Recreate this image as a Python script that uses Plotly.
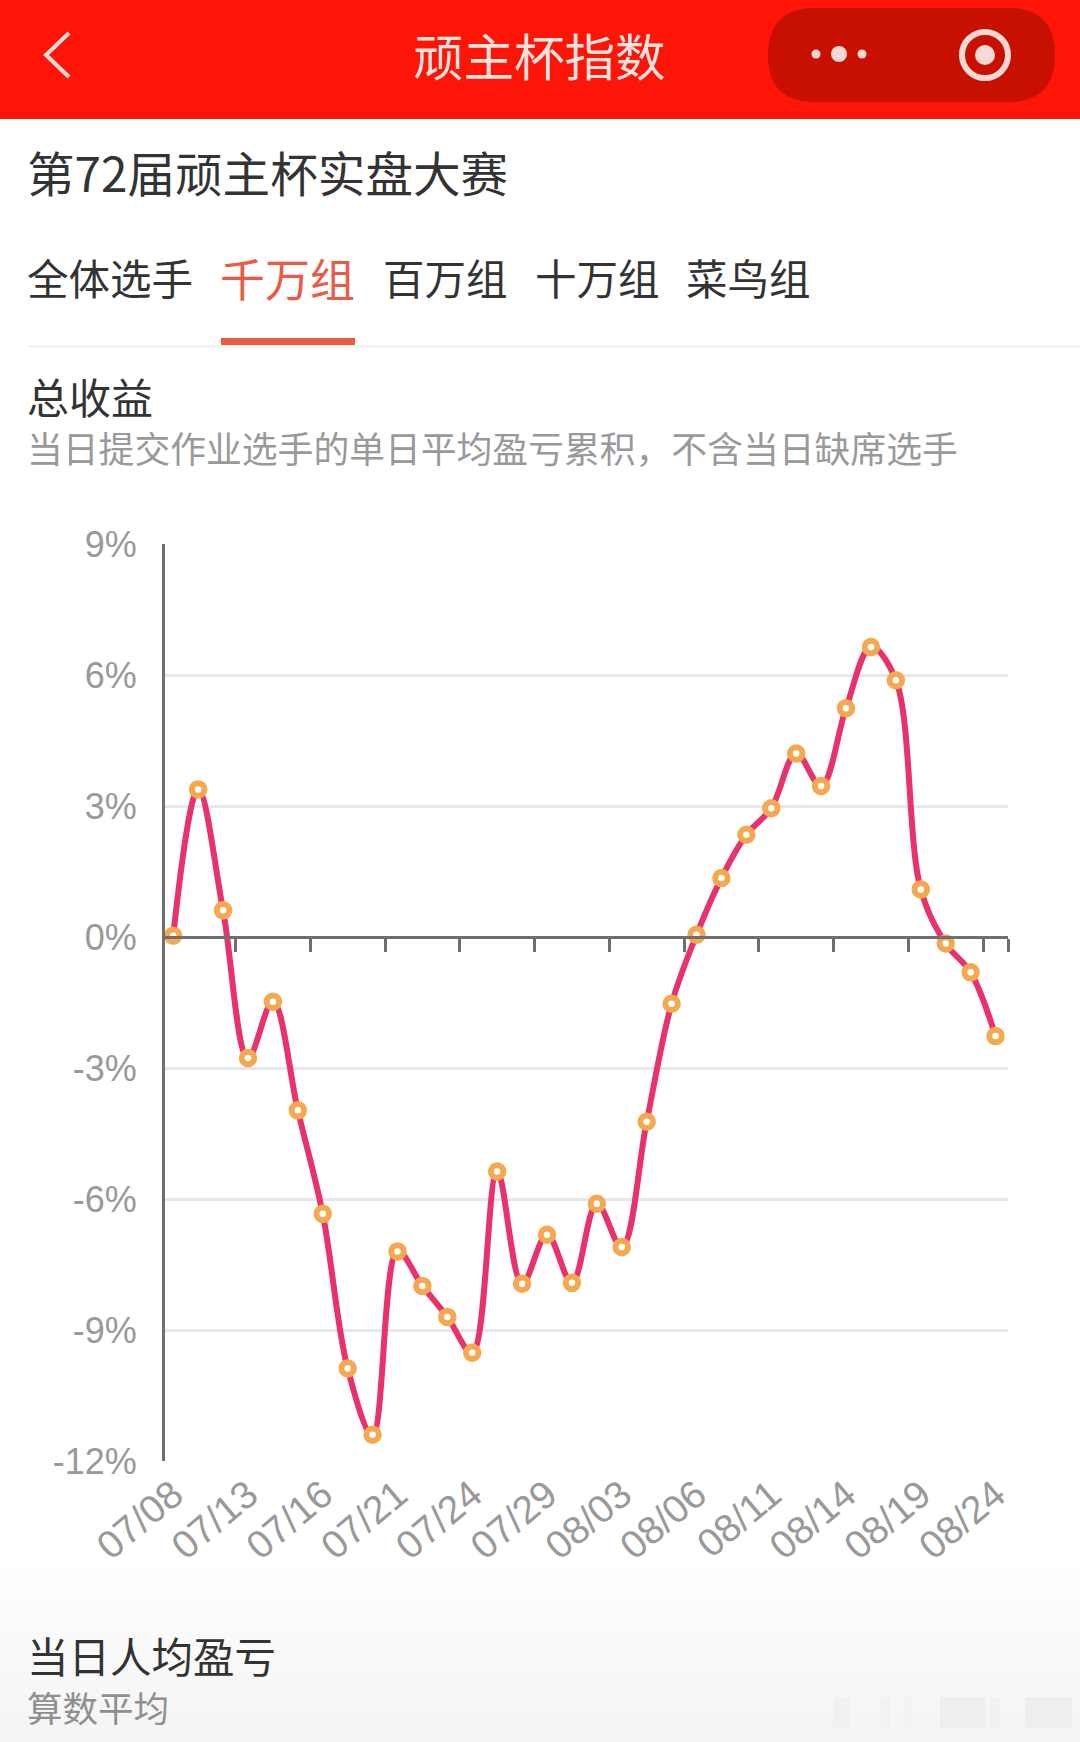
import plotly.graph_objects as go

W = 1080
H = 1742

# values, one per day
point_idx = list(range(34))
total_return = [0.03, 3.38, 0.61, -2.77, -1.48, -3.97, -6.34, -9.88, -11.40, -7.20, -7.99, -8.70,
                -9.52, -5.37, -7.94, -6.82, -7.92, -6.11, -7.10, -4.23, -1.53, 0.05, 1.35, 2.34,
                2.95, 4.20, 3.46, 5.24, 6.64, 5.88, 1.09, -0.15, -0.81, -2.27]
date_labels = ['07/08', '07/13', '07/16', '07/21', '07/24', '07/29',
               '08/03', '08/06', '08/11', '08/14', '08/19', '08/24']
date_idx = list(range(0, 34, 3))
y_vals = [9, 6, 3, 0, -3, -6, -9, -12]
y_labels = ['9%', '6%', '3%', '0%', '-3%', '-6%', '-9%', '-12%']
tick_edges = [2.5, 5.5, 8.5, 11.5, 14.5, 17.5, 20.5, 23.5, 26.5, 29.5, 32.5, 33.5]

tabs = ['全体选手', '千万组', '百万组', '十万组', '菜鸟组']
tab_x = [25, 218, 381, 533, 684]

CJK = 'Noto Sans CJK SC'
LATIN = 'Liberation Sans'
AXIS_GREY = '#6f6f73'
GRID = '#e3e8ee'

PLOT_L = 165
PLOT_R = 1008
PLOT_T = 544
PLOT_B = 1461
X_MIN = -0.33
X_MAX = 33.5


# paper coords are relative to the plot area, so everything outside goes through these
def px(v):
    return (v - PLOT_L) / (PLOT_R - PLOT_L)


def py(v):
    return (PLOT_B - v) / (PLOT_B - PLOT_T)


def box(x0, y0, x1, y1, color, layer='below'):
    return dict(type='rect', xref='paper', yref='paper', layer=layer,
                x0=px(x0), x1=px(x1), y0=py(y0), y1=py(y1),
                fillcolor=color, line_width=0)


def label(text, x, y, size, color, anchor='left', font=CJK):
    return dict(text=text, x=px(x), y=py(y), xref='paper', yref='paper',
                xanchor=anchor, yanchor='middle', showarrow=False,
                font=dict(family=font, size=size, color=color))


def circle(cx, cy, r, fill, line=None, lw=0):
    return dict(type='circle', xref='paper', yref='paper',
                x0=px(cx - r), x1=px(cx + r), y0=py(cy - r), y1=py(cy + r),
                fillcolor=fill, line=dict(color=line, width=lw))


def pill(x0, y0, x1, y1, r, color):
    # rounded rect for the capsule button
    path = (f'M {px(x0 + r)} {py(y0)} L {px(x1 - r)} {py(y0)} '
            f'Q {px(x1)} {py(y0)} {px(x1)} {py(y0 + r)} L {px(x1)} {py(y1 - r)} '
            f'Q {px(x1)} {py(y1)} {px(x1 - r)} {py(y1)} L {px(x0 + r)} {py(y1)} '
            f'Q {px(x0)} {py(y1)} {px(x0)} {py(y1 - r)} L {px(x0)} {py(y0 + r)} '
            f'Q {px(x0)} {py(y0)} {px(x0 + r)} {py(y0)} Z')
    return dict(type='path', xref='paper', yref='paper', path=path, fillcolor=color, line_width=0)


shapes = []

# grey fade at the bottom of the page
fade_top = 1553
for i in range(32):
    y0 = fade_top + i * 6
    g = 255 - round(i * 11 / 31)
    shapes.append(box(0, y0, W, y0 + 6, f'rgb({g},{g},{g})'))

# header bar
shapes.append(box(0, 0, W, 119, '#ff1508'))
shapes.append(pill(768, 8, 1055, 102, 47, '#c81000'))
shapes.append(box(910.5, 16, 911.5, 84, '#b80f00'))
shapes.append(circle(839, 54, 8, '#f8d8d4'))
shapes.append(circle(816, 54, 4.5, '#f8d8d4'))
shapes.append(circle(862, 54, 4.5, '#f8d8d4'))
shapes.append(circle(985, 55, 23, 'rgba(0,0,0,0)', '#f8d8d4', 6))
shapes.append(circle(985, 55, 10, '#f8d8d4'))
shapes.append(dict(type='path', xref='paper', yref='paper',
                   path=f'M {px(69)} {py(33)} L {px(46)} {py(55)} L {px(69)} {py(77)}',
                   line=dict(color='#f8dcd8', width=4)))

# tab underline
shapes.append(box(28, 345, W, 347.5, '#f0f0f0'))
shapes.append(box(221, 338, 355, 345, '#ea5a45'))

# faint blurred mark bottom right
for x0, x1, c in [(833, 850, '#f1f1f1'), (880, 890, '#f2f2f2'), (905, 912, '#f2f2f2'),
                  (940, 985, '#eeeeee'), (990, 1000, '#f1f1f1'), (1025, 1072, '#eeeeee')]:
    shapes.append(box(x0, 1697, x1, 1728, c))

annotations = [
    label('顽主杯指数', 539, 54, 50.5, '#fbe3e0', 'center'),
    label('第72届顽主杯实盘大赛', 25, 172, 47.6, '#333333'),
    label('总收益', 25, 395, 42, '#333333'),
    label('当日提交作业选手的单日平均盈亏累积，不含当日缺席选手', 25, 447, 35.8, '#999999'),
    label('当日人均盈亏', 25, 1655, 41.5, '#333333'),
    label('算数平均', 25, 1706, 35.5, '#8f8f8f'),
]
for name, x in zip(tabs, tab_x):
    color = '#ea5a45' if name == '千万组' else '#333333'
    size = 45 if name == '千万组' else 41.5
    annotations.append(label(name, x, 277, size, color))
    # the active tab is drawn a bit larger, same baseline

fig = go.Figure()

fig.add_trace(go.Scatter(
    x=point_idx, y=total_return, mode='lines+markers',
    line=dict(color='#e8326c', width=6, shape='spline', smoothing=1),
    marker=dict(size=12.5, color='#ffffff', line=dict(color='#f4a950', width=6)),
    hoverinfo='skip', showlegend=False,
))
# empty trace so the zero axis with the ticks gets drawn
fig.add_trace(go.Scatter(x=[0], y=[0], xaxis='x2', mode='markers', marker=dict(opacity=0),
                         hoverinfo='skip', showlegend=False))

fig.update_layout(
    width=W, height=H,
    margin=dict(l=PLOT_L, r=W - PLOT_R, t=PLOT_T, b=H - PLOT_B),
    paper_bgcolor='#ffffff', plot_bgcolor='rgba(0,0,0,0)',
    shapes=shapes, annotations=annotations,
    xaxis=dict(range=[X_MIN, X_MAX], tickmode='array', tickvals=date_idx, ticktext=date_labels,
               tickangle=-40, showgrid=False, zeroline=False, showline=False, ticks='',
               ticklabelstandoff=2, tickfont=dict(family=LATIN, size=39, color='#999999')),
    xaxis2=dict(range=[X_MIN, X_MAX], overlaying='x', anchor='free', position=12 / 21,
                tickmode='array', tickvals=tick_edges, showticklabels=False,
                ticks='outside', side='bottom', ticklen=13, tickwidth=3, tickcolor=AXIS_GREY,
                showgrid=False, zeroline=False, showline=True, linecolor=AXIS_GREY, linewidth=3),
    yaxis=dict(range=[-12, 9], tickmode='array', tickvals=y_vals, ticktext=y_labels,
               showgrid=True, gridcolor=GRID, gridwidth=3, zeroline=False,
               showline=True, linecolor=AXIS_GREY, linewidth=3, ticks='',
               ticklabelstandoff=18, tickfont=dict(family=LATIN, size=36, color='#999999')),
)

fig.write_html("out.html", post_script="document.body.style.margin='0';",
               config={'displayModeBar': False})
